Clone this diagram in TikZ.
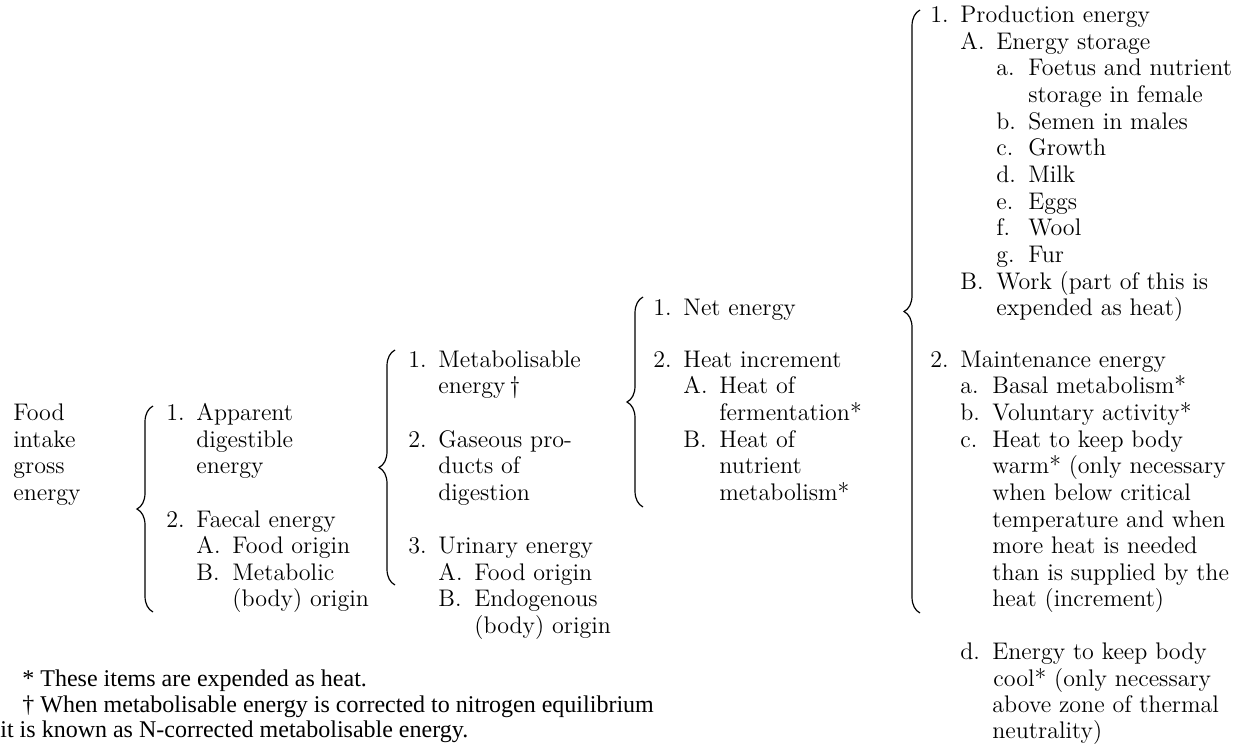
\documentclass[tikz,border=0pt]{standalone}
\usepackage{fontspec}
\newfontfamily\notefont{Liberation Serif}
\usetikzlibrary{decorations.pathreplacing}
\newcommand{\nlab}[1]{\makebox[15pt][l]{#1}}
\newcommand{\clab}[1]{\makebox[18pt][l]{#1}}
\newcommand{\slab}[1]{\makebox[16pt][l]{#1}}
\begin{document}
\begin{tikzpicture}[x=0.5pt,y=-0.5pt,
  txt/.style={anchor=base west,inner sep=0pt,font=\fontsize{12}{13.35}\selectfont},
  note/.style={anchor=base west,inner sep=0pt,font=\notefont\fontsize{12}{13.35}\selectfont},
  brc/.style={decorate,decoration={brace,amplitude=8pt},line width=0.6pt}]
\useasboundingbox (0,0) rectangle (1245,744);

\node[txt] (gross1) at (13,420) {Food};
\node[txt] (gross2) at (13,447) {intake};
\node[txt] (gross3) at (13,473) {gross};
\node[txt] (gross4) at (13,500) {energy};

\coordinate (b1top) at (153,406);
\coordinate (b1bot) at (153,612);
\draw[brc] (b1bot) -- (b1top);

\node[txt] (de1) at (166,420) {\nlab{1.}Apparent};
\node[txt] (de2) at (196,447) {digestible};
\node[txt] (de3) at (196,473) {energy};
\node[txt] (fe1) at (166,527) {\nlab{2.}Faecal energy};
\node[txt] (fe2) at (196,553) {\clab{A.}Food origin};
\node[txt] (fe3) at (196,580) {\clab{B.}Metabolic};
\node[txt] (fe4) at (232,606) {(body) origin};

\coordinate (b2top) at (395,350);
\coordinate (b2bot) at (395,585);
\draw[brc] (b2bot) -- (b2top);

\node[txt] (me1) at (408,367) {\nlab{1.}Metabolisable};
\node[txt] (me2) at (438,393) {energy\,\textdagger};
\node[txt] (gp1) at (408,447) {\nlab{2.}Gaseous pro-};
\node[txt] (gp2) at (438,473) {ducts of};
\node[txt] (gp3) at (438,500) {digestion};
\node[txt] (ue1) at (408,553) {\nlab{3.}Urinary energy};
\node[txt] (ue2) at (438,580) {\clab{A.}Food origin};
\node[txt] (ue3) at (438,606) {\clab{B.}Endogenous};
\node[txt] (ue4) at (474,633) {(body) origin};

\coordinate (b3top) at (643,297);
\coordinate (b3bot) at (643,507);
\draw[brc] (b3bot) -- (b3top);

\node[txt] (ne1) at (653,315) {\nlab{1.}Net energy};
\node[txt] (hi1) at (653,367) {\nlab{2.}Heat increment};
\node[txt] (hi2) at (683,393) {\clab{A.}Heat of};
\node[txt] (hi3) at (719,420) {fermentation*};
\node[txt] (hi4) at (683,447) {\clab{B.}Heat of};
\node[txt] (hi5) at (719,473) {nutrient};
\node[txt] (hi6) at (719,500) {metabolism*};

\coordinate (b4top) at (920,10);
\coordinate (b4bot) at (920,613);
\draw[brc] (b4bot) -- (b4top);

\node[txt] (pe1) at (930,22) {\nlab{1.}Production energy};
\node[txt] (pe2) at (960,49) {\clab{A.}Energy storage};
\node[txt] (pe3) at (996,75) {\slab{a.}Foetus and nutrient};
\node[txt] (pe4) at (1028,102) {storage in female};
\node[txt] (pe5) at (996,129) {\slab{b.}Semen in males};
\node[txt] (pe6) at (996,155) {\slab{c.}Growth};
\node[txt] (pe7) at (996,182) {\slab{d.}Milk};
\node[txt] (pe8) at (996,209) {\slab{e.}Eggs};
\node[txt] (pe9) at (996,235) {\slab{f.}Wool};
\node[txt] (pe10) at (996,262) {\slab{g.}Fur};
\node[txt] (pe11) at (960,289) {\clab{B.}Work (part of this is};
\node[txt] (pe12) at (996,315) {expended as heat)};

\node[txt] (mn1) at (930,367) {\nlab{2.}Maintenance energy};
\node[txt] (mn2) at (960,393) {\slab{a.}Basal metabolism*};
\node[txt] (mn3) at (960,420) {\slab{b.}Voluntary activity*};
\node[txt] (mn4) at (960,447) {\slab{c.}Heat to keep body};
\node[txt] (mn5) at (992,473) {warm* (only necessary};
\node[txt] (mn6) at (992,500) {when below critical};
\node[txt] (mn7) at (992,527) {temperature and when};
\node[txt] (mn8) at (992,553) {more heat is needed};
\node[txt] (mn9) at (992,580) {than is supplied by the};
\node[txt] (mn10) at (992,606) {heat (increment)};
\node[txt] (mn11) at (960,659) {\slab{d.}Energy to keep body};
\node[txt] (mn12) at (993,686) {cool* (only necessary};
\node[txt] (mn13) at (992,712) {above zone of thermal};
\node[txt] (mn14) at (992,738) {neutrality)};

\node[note] (fn1) at (22,686) {* These items are expended as heat.};
\node[note] (fn2) at (22,712) {\textdagger{} When metabolisable energy is corrected to nitrogen equilibrium};
\node[note] (fn3) at (0,737) {it is known as N-corrected metabolisable energy.};
\end{tikzpicture}
\end{document}
